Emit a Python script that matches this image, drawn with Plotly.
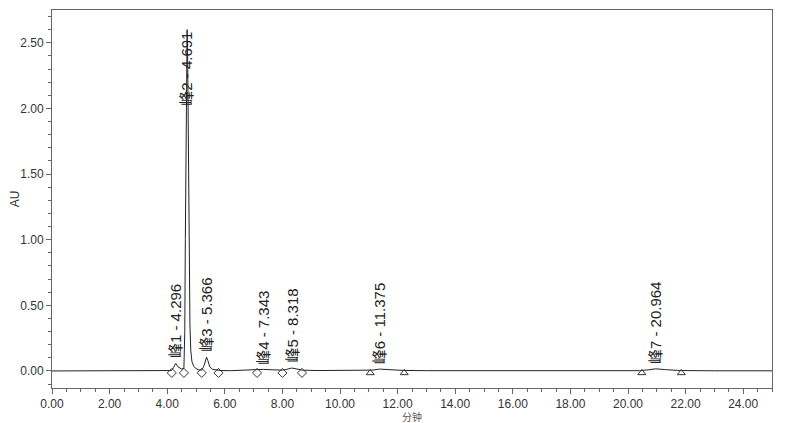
import plotly.graph_objects as go

# Chromatogram trace (minutes, AU)
times = [0, 1, 2, 3, 4.0, 4.15, 4.22, 4.296, 4.38, 4.5, 4.58, 4.61, 4.63, 4.65, 4.67, 4.691,
         4.71, 4.73, 4.75, 4.77, 4.79, 4.82, 4.86, 4.92, 5.0, 5.1, 5.2, 5.28, 5.33, 5.366,
         5.41, 5.48, 5.58, 5.7, 5.85, 6.2, 6.6, 7.0, 7.343, 7.7, 8.0, 8.15, 8.318, 8.5,
         8.7, 9.2, 10.0, 10.8, 11.1, 11.375, 11.7, 12.2, 13, 15, 18, 20.4, 20.7, 20.964,
         21.3, 21.8, 23, 25]
au = [0.0, 0.0, 0.0, 0.0, 0.0, 0.003, 0.025, 0.058, 0.03, 0.015, 0.02, 0.3, 1.0, 1.8, 2.35, 2.6,
      2.4, 1.9, 1.3, 0.7, 0.35, 0.15, 0.07, 0.035, 0.018, 0.008, 0.006, 0.04, 0.09, 0.105,
      0.08, 0.03, 0.012, 0.006, 0.003, 0.002, 0.006, 0.008, 0.012, 0.008, 0.006, 0.012, 0.022, 0.015,
      0.006, 0.003, 0.002, 0.002, 0.006, 0.014, 0.01, 0.004, 0.002, 0.001, 0.001, 0.002, 0.008, 0.016,
      0.01, 0.003, 0.001, 0.001]

# Peak labels
peak_names = ["峰1", "峰2", "峰3", "峰4", "峰5", "峰6", "峰7"]
peak_times = [4.296, 4.691, 5.366, 7.343, 8.318, 11.375, 20.964]
peak_heights = [0.058, 2.6, 0.105, 0.012, 0.022, 0.014, 0.016]

# Integration markers (start/end of peaks)
diamond_times = [4.16, 4.58, 5.20, 5.78, 7.12, 8.0, 8.68]
triangle_times = [11.05, 12.23, 20.48, 21.85]
marker_level = -0.015

FONT = "Liberation Sans, Arial, Noto Sans CJK SC, sans-serif"

fig = go.Figure()
fig.add_trace(go.Scatter(x=times, y=au, mode="lines",
                         line=dict(color="#222222", width=1), showlegend=False,
                         hoverinfo="skip"))
fig.add_trace(go.Scatter(x=diamond_times, y=[marker_level] * len(diamond_times), mode="markers",
                         marker=dict(symbol="diamond-open", size=7, color="#333333",
                                     line=dict(width=1)), showlegend=False))
fig.add_trace(go.Scatter(x=triangle_times, y=[marker_level] * len(triangle_times), mode="markers",
                         marker=dict(symbol="triangle-up-open", size=7, color="#333333",
                                     line=dict(width=1)), showlegend=False))

for name, t, h in zip(peak_names, peak_times, peak_heights):
    label = f"{name} - {t:.3f}"
    if h > 1:
        fig.add_annotation(x=t, y=h, text=label, textangle=-90, showarrow=False,
                           xanchor="center", yanchor="top",
                           font=dict(family=FONT, size=15, color="#222222"))
    else:
        fig.add_annotation(x=t, y=h, text=label, textangle=-90, showarrow=False,
                           xanchor="center", yanchor="bottom", yshift=3,
                           font=dict(family=FONT, size=15, color="#222222"))

fig.update_layout(
    width=792, height=415,
    margin=dict(l=44, r=28, t=2, b=35),
    paper_bgcolor="white", plot_bgcolor="white",
    font=dict(family=FONT, size=12, color="#333333"),
    xaxis=dict(range=[0, 25], dtick=2, tickformat=".2f", showgrid=False, zeroline=False,
               automargin=False,
               showline=True, linecolor="#666666", linewidth=1, mirror=True,
               ticks="outside", ticklen=5, tickcolor="#666666",
               minor=dict(dtick=0.5, ticks="outside", ticklen=3, tickcolor="#666666"),
               title=dict(text="分钟", font=dict(size=10, color="#555555"), standoff=3),
               tickfont=dict(size=12, color="#333333")),
    yaxis=dict(range=[-0.13, 2.75], dtick=0.5, tick0=0, tickformat=".2f", showgrid=False,
               automargin=False,
               zeroline=False, showline=True, linecolor="#666666", linewidth=1, mirror=True,
               ticks="outside", ticklen=5, tickcolor="#666666",
               minor=dict(dtick=0.1, ticks="outside", ticklen=3, tickcolor="#666666"),
               title=dict(text="AU", font=dict(size=12, color="#333333"), standoff=4),
               tickfont=dict(size=12, color="#333333")),
)

fig.write_html("out.html")
